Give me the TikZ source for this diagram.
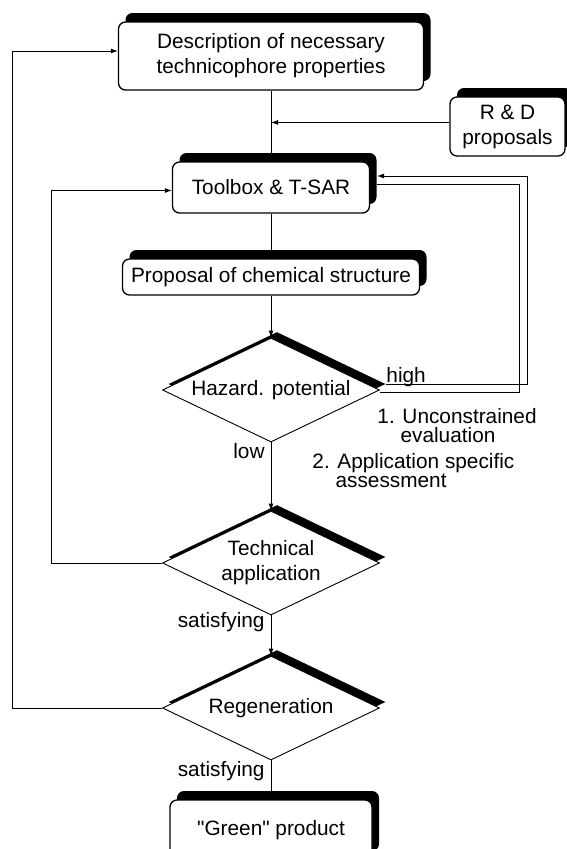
\documentclass[tikz,border=0pt]{standalone}
\usepackage{fontspec}
\setmainfont{Liberation Sans}
\usepackage{tikz}
\usetikzlibrary{
    arrows,
    arrows.meta,
    shapes,
    shadows,
    calc,
    positioning
}

\tikzset{
    box/.style={draw, line width=1.3pt, rounded corners=7pt, fill=white, align=center, inner sep=0pt,
        drop shadow={shadow xshift=7pt, shadow yshift=9pt, opacity=1, fill=black}},
    test/.style={draw, diamond, aspect=2, line width=0.9pt, fill=white, align=center, inner sep=0pt,
        minimum width=217pt, minimum height=104pt,
        drop shadow={shadow xshift=6pt, shadow yshift=6pt, opacity=1, fill=black}},
    note/.style={inner sep=0pt, align=left, font=\fontsize{20.8}{19}\selectfont},
    tag/.style={inner sep=0pt}
}

\begin{document}
\begin{tikzpicture}[x=1pt, y=1pt, line width=0.9pt, >={Latex[length=7pt, width=5pt]},
    every node/.style={font=\fontsize{20.8}{25}\selectfont}]
        \useasboundingbox (0, 0) rectangle (566, -849);
        \node[box, minimum width=305pt, minimum height=68pt] (desc) at (271, -56) {Description of necessary\\technicophore properties};
        \node[box, minimum width=115pt, minimum height=59pt] (rnd) at (507.5, -126.5) {R \& D\\proposals};
        \node[box, minimum width=197pt, minimum height=51pt] (tool) at (271, -187.5) {Toolbox \& T-SAR};
        \node[box, minimum width=297pt, minimum height=36pt] (prop) at (271, -277) {Proposal of chemical structure};
        \node[test] (haz) at (271, -390) {Hazard. potential};
        \node[test] (tech) at (271, -563) {Technical\\application};
        \node[test] (regen) at (271, -708) {Regeneration};
        \node[box, minimum width=202pt, minimum height=60pt, text depth=5pt] (green) at (271, -830) {\textquotedbl Green\textquotedbl{} product};
        \coordinate (join) at ($(desc.south)!0.45!(tool.north)$);
        \node[tag, anchor=base west] (high) at (386, -382) {high};
        \node[tag, anchor=base east] (low) at (265, -458) {low};
        \node[tag, anchor=base east] (ok1) at (265, -627) {satisfying};
        \node[tag, anchor=base east] (ok2) at (265, -776) {satisfying};
        \node[note, anchor=north west] (eval) at (377, -407.5) {1. Unconstrained\\\hphantom{1.\ }evaluation};
        \node[note, anchor=north west] (assess) at (312, -453) {2. Application specific\\\hphantom{2.\ }assessment};
        \draw (desc) -- (tool);
        \draw[->] (rnd.west |- join) -- (join);
        \draw[->] (tool) -- (prop);
        \draw[->] (prop) -- (haz);
        \draw[->] (haz) -- (tech);
        \draw[->] (tech) -- (regen);
        \draw[->] (regen) -- (green);
        \draw[->] ([shift={(6pt,6pt)}]haz.east) -- ++(141, 0) |- ([shift={(7pt,11.5pt)}]tool.east);
        \draw ([yshift=-2pt]haz.east) -- ++(139.5, 0) |- ([shift={(7pt,3.5pt)}]tool.east);
        \draw[->] (tech.west) -- ++(-111, 0) |- ([yshift=-3pt]tool.west);
        \draw[->] (regen.west) -- ++(-150, 0) |- ([yshift=5pt]desc.west);
    \end{tikzpicture}
\end{document}
